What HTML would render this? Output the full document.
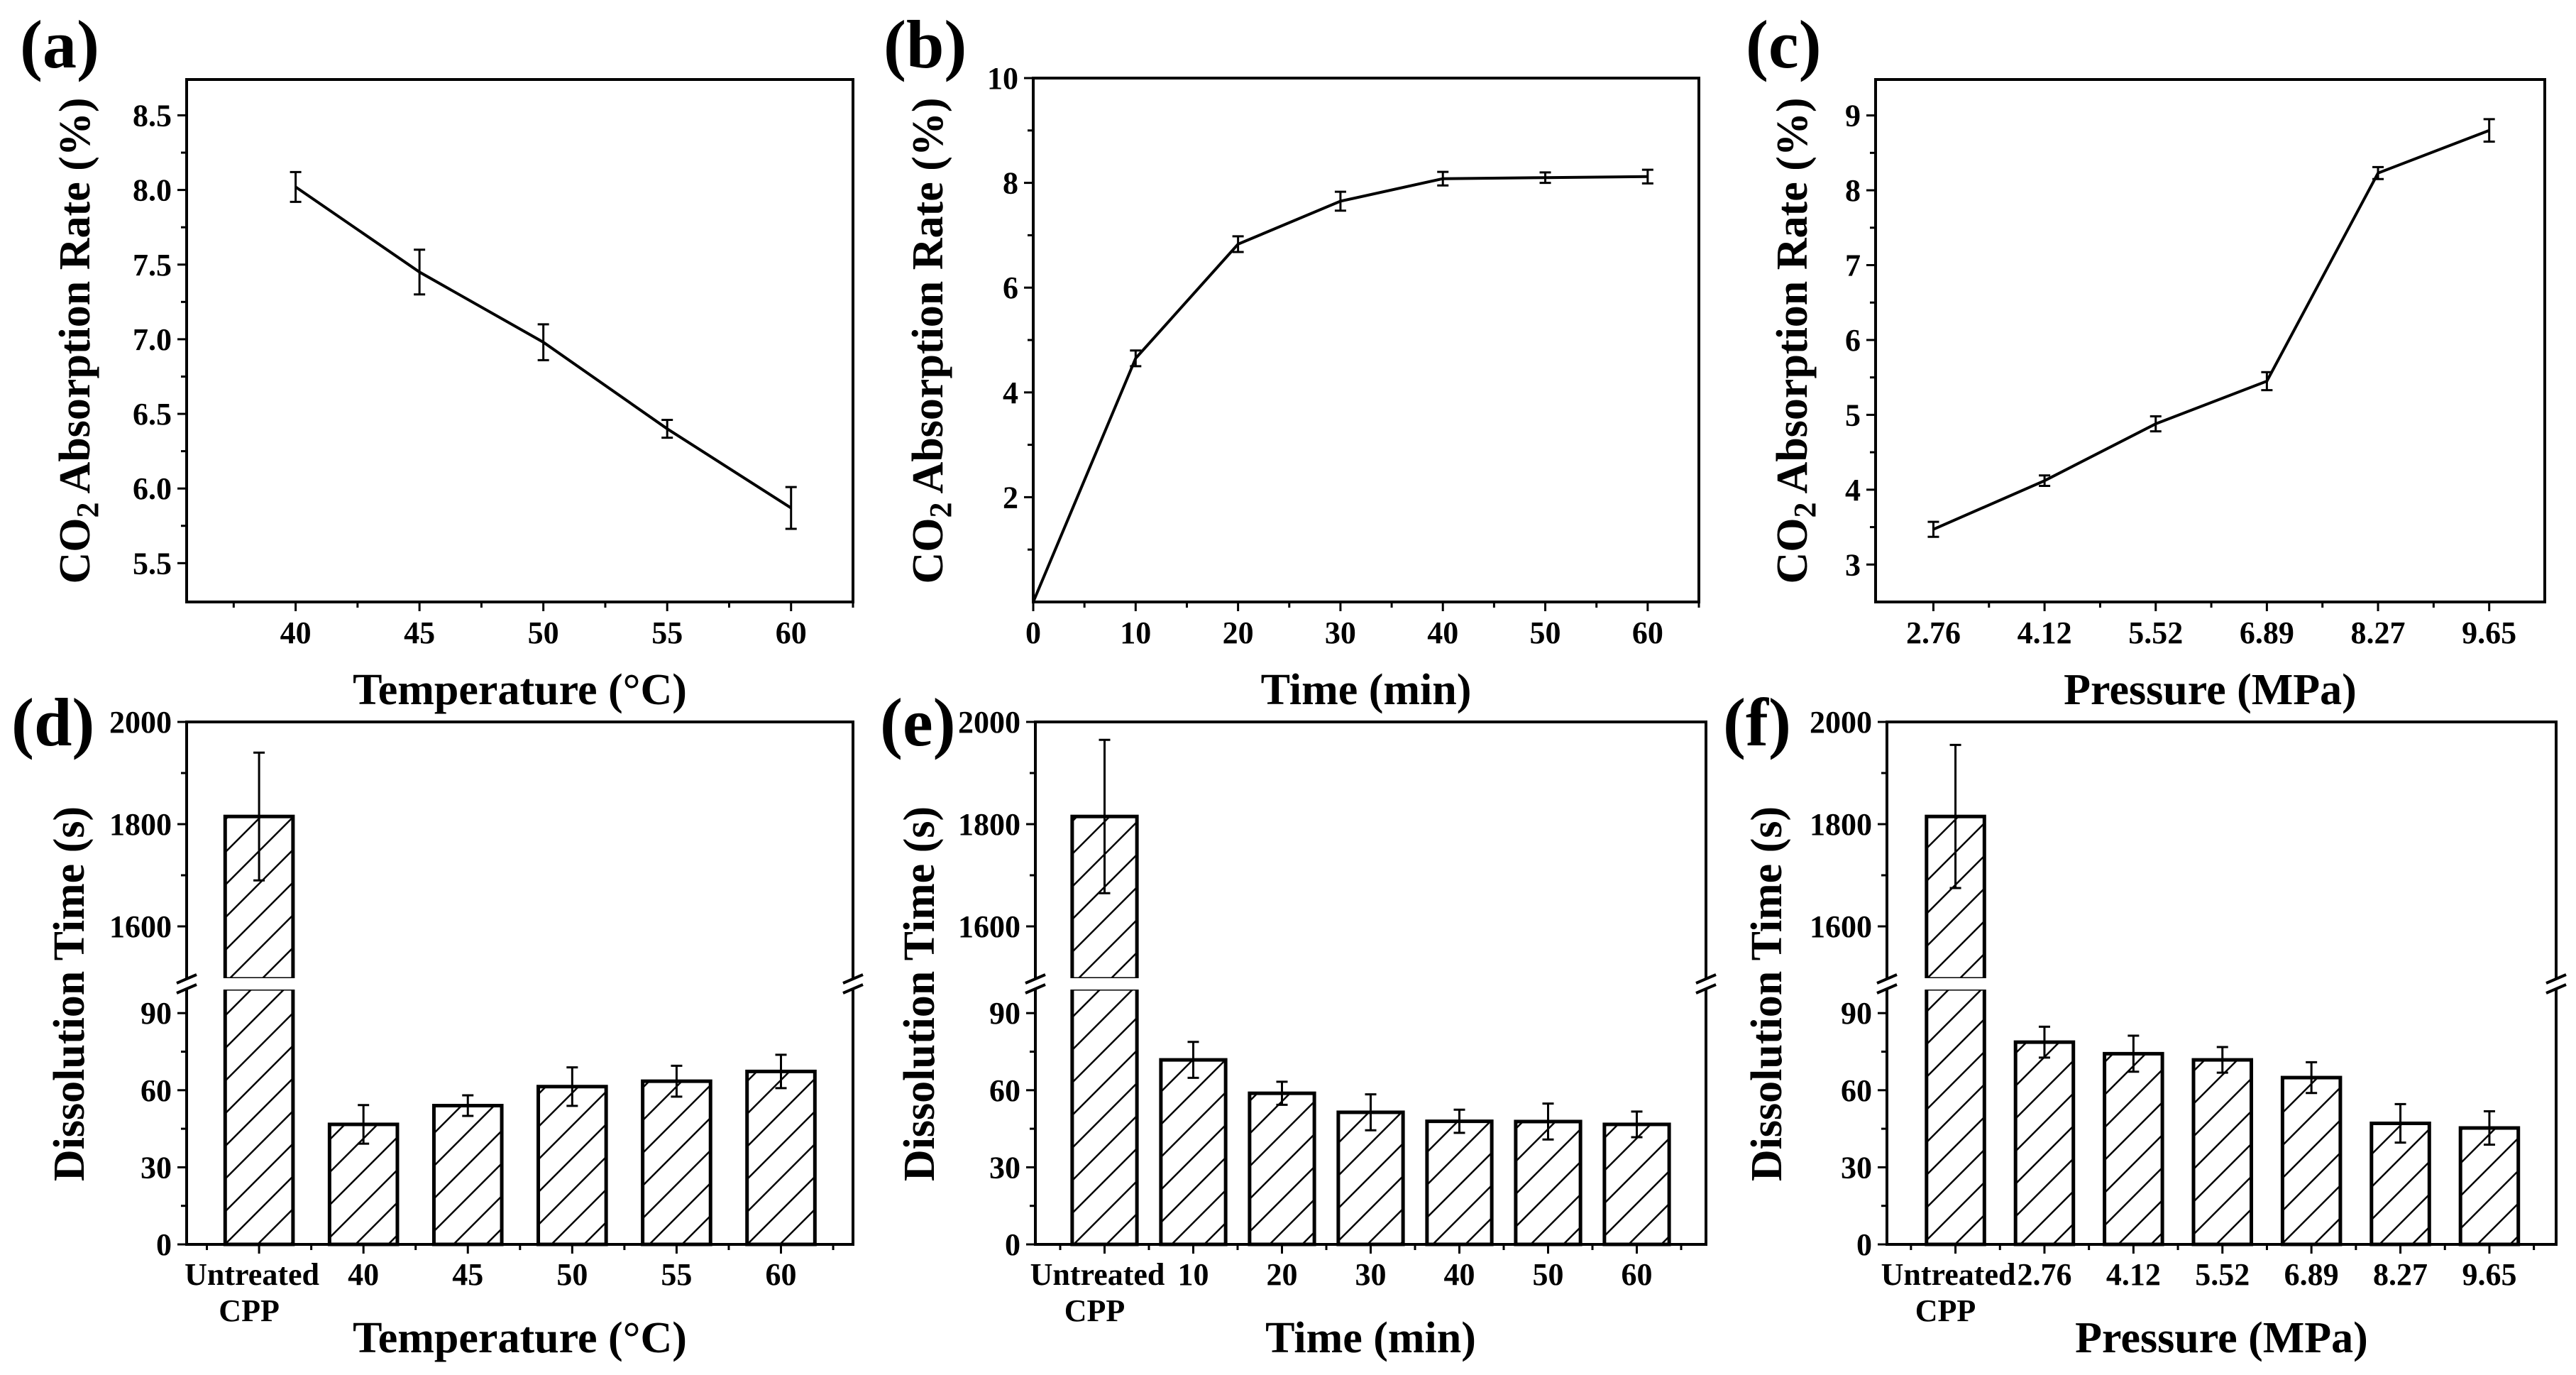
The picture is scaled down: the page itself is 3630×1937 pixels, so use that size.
<!DOCTYPE html>
<html><head><meta charset="utf-8"><style>
html,body{margin:0;padding:0;background:#fff;}
svg{display:block;}
text{font-family:"Liberation Serif",serif;font-weight:bold;fill:#000;}
</style></head>
<body>
<svg id="fig" width="3630" height="1937" viewBox="0 0 3630 1937" xmlns="http://www.w3.org/2000/svg">
<defs>
<pattern id="hatch" patternUnits="userSpaceOnUse" width="46" height="46">
<path d="M0,46 L46,0 M-10,10 L10,-10 M36,56 L56,36" stroke="#000" stroke-width="2.5"/>
</pattern>
</defs>
</svg>
<script>
// ---------- data ----------
var tempCats = [40, 45, 50, 55, 60];
var tempAbs = [8.02, 7.45, 6.98, 6.40, 5.87];
var tempAbsErr = [0.10, 0.15, 0.12, 0.06, 0.14];
var timeCats = [0, 10, 20, 30, 40, 50, 60];
var timeAbs = [0, 4.65, 6.83, 7.65, 8.08, 8.10, 8.12];
var timeAbsErr = [0, 0.15, 0.15, 0.18, 0.13, 0.10, 0.13];
var presLabels = ["2.76", "4.12", "5.52", "6.89", "8.27", "9.65"];
var presAbs = [3.47, 4.12, 4.88, 5.45, 8.23, 8.80];
var presAbsErr = [0.10, 0.07, 0.10, 0.12, 0.08, 0.15];

var tempBarLabels = ["Untreated", "40", "45", "50", "55", "60"];
var tempDiss = [1815, 46.7, 54, 61.4, 63.5, 67.3];
var tempDissErr = [125, 7.5, 4, 7.5, 6, 6.5];
var timeBarLabels = ["Untreated", "10", "20", "30", "40", "50", "60"];
var timeDiss = [1815, 71.8, 58.8, 51.4, 47.9, 47.8, 46.7];
var timeDissErr = [150, 7, 4.5, 7, 4.5, 7, 5];
var presBarLabels = ["Untreated", "2.76", "4.12", "5.52", "6.89", "8.27", "9.65"];
var presDiss = [1815, 78.7, 74.2, 71.8, 64.9, 47.1, 45.3];
var presDissErr = [140, 6, 7, 5, 6, 7.5, 6.5];

var aYTicks = [5.5, 6.0, 6.5, 7.0, 7.5, 8.0, 8.5];
var bYTicks = [2, 4, 6, 8, 10];
var cYTicks = [3, 4, 5, 6, 7, 8, 9];
var lowTicks = [0, 30, 60, 90];
var highTicks = [1600, 1800, 2000];

// ---------- helpers ----------
var svg = document.getElementById('fig');
var NS = 'http://www.w3.org/2000/svg';
function mk(tag, attrs, parent) {
  var e = document.createElementNS(NS, tag);
  for (var k in attrs) e.setAttribute(k, attrs[k]);
  (parent || svg).appendChild(e);
  return e;
}
function txt(s, x, y, size, anchor, parent) {
  var t = mk('text', {x: x, y: y, 'font-size': size, 'text-anchor': anchor || 'middle'}, parent);
  t.textContent = s;
  return t;
}

function linePanel(p) {
  var g = mk('g', {});
  
  
  var X = function (v) { return p.l + (v - p.xmin) / (p.xmax - p.xmin) * (p.r - p.l); };
  var Y = function (v) { return p.b - (v - p.ymin) / (p.ymax - p.ymin) * (p.b - p.t); };
  var frame = mk('rect', {x: p.l, y: p.t, width: p.r - p.l, height: p.b - p.t, fill: 'none', stroke: '#000', 'stroke-width': 4}, g);
  
  
  p.yticks.forEach(function (v, i) {
    mk('line', {x1: p.l - 13, x2: p.l, y1: Y(v), y2: Y(v), stroke: '#000', 'stroke-width': 3}, g);
    var t = txt(p.ylabels[i], p.l - 21, Y(v) + 15, 44, 'end', g);
    
    
  });
  p.yminor.forEach(function (v) {
    mk('line', {x1: p.l - 8, x2: p.l, y1: Y(v), y2: Y(v), stroke: '#000', 'stroke-width': 3}, g);
  });
  p.xticks.forEach(function (v, i) {
    mk('line', {x1: X(v), x2: X(v), y1: p.b, y2: p.b + 13, stroke: '#000', 'stroke-width': 3}, g);
    var t = txt(p.xlabels[i], X(v), p.b + 58, 44, 'middle', g);
    
    
  });
  p.xminor.forEach(function (v) {
    mk('line', {x1: X(v), x2: X(v), y1: p.b, y2: p.b + 8, stroke: '#000', 'stroke-width': 3}, g);
  });
  var d = '';
  p.xs.forEach(function (v, i) { d += (i ? 'L' : 'M') + X(v) + ',' + Y(p.ys[i]); });
  var line = mk('path', {d: d, fill: 'none', stroke: '#000', 'stroke-width': 4}, g);
  
  
  p.xs.forEach(function (v, i) {
    if (!p.es[i]) return;
    var x = X(v), y1 = Y(p.ys[i] + p.es[i]), y2 = Y(p.ys[i] - p.es[i]);
    var eb = mk('path', {d: 'M' + (x - 8) + ',' + y1 + 'H' + (x + 8) + 'M' + x + ',' + y1 + 'V' + y2 + 'M' + (x - 8) + ',' + y2 + 'H' + (x + 8), fill: 'none', stroke: '#000', 'stroke-width': 3}, g);
    
    
  });
  var xt = txt(p.xtitle, (p.l + p.r) / 2, 992, 62, 'middle', g);
  
  
  var yt = mk('text', {x: 0, y: 0, 'font-size': 62, 'text-anchor': 'middle', transform: 'translate(' + (p.ytx + 22) + ',' + 480 + ') rotate(-90)'}, g);
  
  
  yt.innerHTML = 'CO<tspan font-size="44" dy="12">2</tspan><tspan dy="-12"> Absorption Rate (%)</tspan>';
  var pl = txt(p.label, p.lx, 95, 96, 'start', g);
  
  
}

function barPanel(p) {
  var g = mk('g', {});
  
  
  var T = 1017, B = 1753, lowTop = 1393, highBot = 1379;
  var X = function (i) { return p.l + (i - p.xmin) / (p.xmax - p.xmin) * (p.r - p.l); };
  var Y = function (v) { return v < 500 ? B - v * 3.62 : 1161 - (v - 1800) * 0.72; };
  mk('path', {d: 'M' + p.l + ',' + highBot + 'V' + T + 'H' + p.r + 'V' + highBot + 'M' + p.l + ',' + lowTop + 'V' + B + 'H' + p.r + 'V' + lowTop, fill: 'none', stroke: '#000', 'stroke-width': 4}, g);
  [p.l, p.r].forEach(function (x) {
    var br = mk('path', {d: 'M' + (x - 14) + ',' + (highBot + 6) + 'L' + (x + 14) + ',' + (highBot - 6) + 'M' + (x - 14) + ',' + (lowTop + 6) + 'L' + (x + 14) + ',' + (lowTop - 6), stroke: '#000', 'stroke-width': 4}, g);
    
    
  });
  lowTicks.concat(highTicks).forEach(function (v) {
    mk('line', {x1: p.l - 13, x2: p.l, y1: Y(v), y2: Y(v), stroke: '#000', 'stroke-width': 3}, g);
    var t = txt(String(v), p.l - 21, Y(v) + 15, 44, 'end', g);
    
    
  });
  [15, 45, 75, 1700, 1900].forEach(function (v) {
    mk('line', {x1: p.l - 8, x2: p.l, y1: Y(v), y2: Y(v), stroke: '#000', 'stroke-width': 3}, g);
  });
  var n = p.vals.length;
  for (var i = 0; i < n; i++) {
    var cx = X(i), w = p.bw * (X(1) - X(0)), v = p.vals[i];
    mk('line', {x1: cx, x2: cx, y1: B, y2: B + 13, stroke: '#000', 'stroke-width': 3}, g);
    mk('line', {x1: X(i - 0.5), x2: X(i - 0.5), y1: B, y2: B + 8, stroke: '#000', 'stroke-width': 3}, g);
    if (v > 500) {
      var b1 = mk('rect', {x: cx - w / 2, y: lowTop, width: w, height: B - lowTop, fill: 'url(#hatch)', stroke: '#000', 'stroke-width': 5}, g);
      
      
      var b2 = mk('rect', {x: cx - w / 2, y: Y(v), width: w, height: highBot - Y(v), fill: 'url(#hatch)', stroke: '#000', 'stroke-width': 5}, g);
      
      
      mk('rect', {x: cx - w / 2 - 4, y: highBot - 1, width: w + 8, height: lowTop - highBot + 2, fill: '#fff'}, g);
    } else {
      var b = mk('rect', {x: cx - w / 2, y: Y(v), width: w, height: B - Y(v), fill: 'url(#hatch)', stroke: '#000', 'stroke-width': 5}, g);
      
      
    }
    var e = p.errs[i], ya = Y(v + e), yb = Y(v - e);
    var eb = mk('path', {d: 'M' + (cx - 8) + ',' + ya + 'H' + (cx + 8) + 'M' + cx + ',' + ya + 'V' + yb + 'M' + (cx - 8) + ',' + yb + 'H' + (cx + 8), fill: 'none', stroke: '#000', 'stroke-width': 3}, g);
    
    
    var lab = p.labels[i];
    if (lab === 'Untreated') {
      var t1 = txt('Untreated', cx - 10, 1810, 44, 'middle', g);
      
      
      var t2 = txt('CPP', cx - 14, 1861, 44, 'middle', g);
      
      
    } else {
      var t3 = txt(lab, cx, 1810, 44, 'middle', g);
      
      
    }
  }
  mk('line', {x1: X(n - 0.5), x2: X(n - 0.5), y1: B, y2: B + 8, stroke: '#000', 'stroke-width': 3}, g);
  var xt = txt(p.xtitle, (p.l + p.r) / 2, 1905, 62, 'middle', g);
  
  
  var yt = mk('text', {x: 0, y: 0, 'font-size': 62, 'text-anchor': 'middle', transform: 'translate(' + (p.ytx + 22) + ',1400) rotate(-90)'}, g);
  yt.textContent = 'Dissolution Time (s)';
  
  
  var pl = txt(p.label, p.lx, 1050, 96, 'start', g);
  
  
}

linePanel({name: 'panel-a', label: '(a)', lx: 28, l: 263, r: 1202, t: 112, b: 848, xmin: 35.6, xmax: 62.5, ymin: 5.24, ymax: 8.74,
  yticks: aYTicks, ylabels: aYTicks.map(function (v) { return v.toFixed(1); }), yminor: [5.75, 6.25, 6.75, 7.25, 7.75, 8.25],
  xticks: tempCats, xlabels: tempCats.map(String), xminor: [37.5, 42.5, 47.5, 52.5, 57.5, 62.5],
  xs: tempCats, ys: tempAbs, es: tempAbsErr, xtitle: 'Temperature (\u00B0C)', ytx: 104});
linePanel({name: 'panel-b', label: '(b)', lx: 1245, l: 1456, r: 2394, t: 110, b: 848, xmin: 0, xmax: 65, ymin: 0, ymax: 10,
  yticks: bYTicks, ylabels: bYTicks.map(String), yminor: [1, 3, 5, 7, 9],
  xticks: timeCats, xlabels: timeCats.map(String), xminor: [5, 15, 25, 35, 45, 55, 65],
  xs: timeCats, ys: timeAbs, es: timeAbsErr, xtitle: 'Time (min)', ytx: 1306});
var cIdx = presLabels.map(function (s, i) { return i; });
linePanel({name: 'panel-c', label: '(c)', lx: 2460, l: 2643, r: 3586, t: 112, b: 848, xmin: -0.52, xmax: 5.5, ymin: 2.5, ymax: 9.48,
  yticks: cYTicks, ylabels: cYTicks.map(String), yminor: [3.5, 4.5, 5.5, 6.5, 7.5, 8.5],
  xticks: cIdx, xlabels: presLabels, xminor: [0.5, 1.5, 2.5, 3.5, 4.5],
  xs: cIdx, ys: presAbs, es: presAbsErr, xtitle: 'Pressure (MPa)', ytx: 2524});

barPanel({name: 'panel-d', label: '(d)', lx: 16, l: 263, r: 1202, xmin: -0.694, xmax: 5.69, bw: 0.65,
  vals: tempDiss, errs: tempDissErr, labels: tempBarLabels, xtitle: 'Temperature (\u00B0C)', ytx: 96});
barPanel({name: 'panel-e', label: '(e)', lx: 1240, l: 1459, r: 2404, xmin: -0.78, xmax: 6.78, bw: 0.73,
  vals: timeDiss, errs: timeDissErr, labels: timeBarLabels, xtitle: 'Time (min)', ytx: 1294});
barPanel({name: 'panel-f', label: '(f)', lx: 2428, l: 2659, r: 3602, xmin: -0.77, xmax: 6.75, bw: 0.65,
  vals: presDiss, errs: presDissErr, labels: presBarLabels, xtitle: 'Pressure (MPa)', ytx: 2488});
</script>
</body></html>
